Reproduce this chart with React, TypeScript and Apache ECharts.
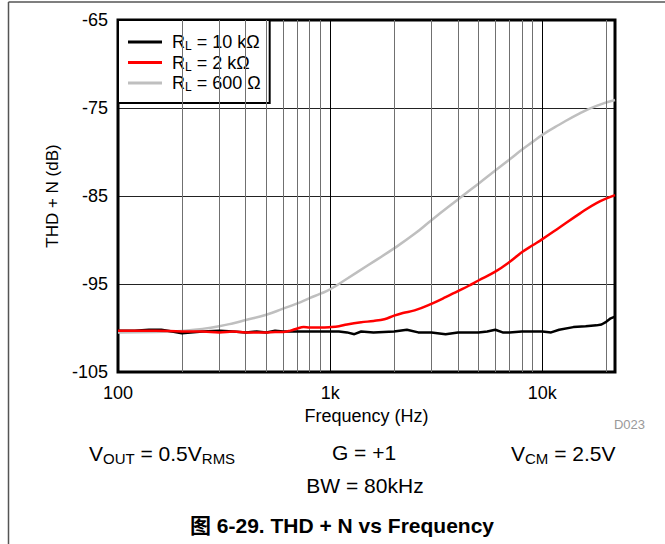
import React, { useEffect, useRef } from "react";
import * as echarts from "echarts";

const FONT = "'Liberation Sans', Arial, 'Noto Sans CJK SC', sans-serif";

const freq10k = [100, 120, 140, 160, 180, 200, 220, 250, 300, 350, 400, 450, 500, 550, 600, 700, 800, 900, 1000, 1100, 1200, 1300, 1400, 1600, 2000, 2300, 2600, 3000, 3500, 4000, 5000, 5500, 6000, 6500, 7000, 8000, 9000, 10000, 11000, 12000, 14000, 16000, 18000, 19000, 20000, 21000, 22000];
const thd10k = [-100.3, -100.3, -100.2, -100.2, -100.4, -100.6, -100.5, -100.4, -100.3, -100.4, -100.5, -100.4, -100.5, -100.3, -100.4, -100.4, -100.4, -100.4, -100.4, -100.4, -100.5, -100.7, -100.4, -100.5, -100.4, -100.2, -100.5, -100.5, -100.7, -100.5, -100.5, -100.4, -100.2, -100.5, -100.5, -100.4, -100.4, -100.4, -100.5, -100.2, -99.9, -99.8, -99.7, -99.6, -99.3, -98.9, -98.7];

const freq2k = [100, 150, 200, 250, 300, 350, 400, 450, 500, 550, 600, 650, 700, 750, 800, 900, 1000, 1100, 1200, 1400, 1600, 1800, 2000, 2200, 2500, 3000, 3500, 4000, 4500, 5000, 6000, 7000, 8000, 9000, 10000, 12000, 15000, 18000, 22000];
const thd2k = [-100.3, -100.3, -100.4, -100.4, -100.5, -100.4, -100.5, -100.5, -100.5, -100.45, -100.45, -100.3, -100.05, -99.9, -99.95, -99.95, -99.9, -99.8, -99.6, -99.35, -99.2, -99.0, -98.6, -98.3, -98.0, -97.25, -96.5, -95.8, -95.2, -94.6, -93.6, -92.5, -91.4, -90.6, -89.9, -88.6, -87.0, -85.8, -84.9];

const freq600 = [100, 150, 200, 250, 300, 350, 400, 500, 600, 700, 800, 900, 1000, 1200, 1500, 2000, 2500, 3000, 4000, 5000, 6000, 7000, 8000, 9000, 10000, 12000, 15000, 18000, 22000];
const thd600 = [-100.5, -100.45, -100.35, -100.1, -99.8, -99.45, -99.1, -98.5, -97.8, -97.2, -96.6, -96.1, -95.6, -94.4, -92.9, -90.95, -89.3, -87.75, -85.4, -83.6, -82.1, -80.85, -79.75, -78.85, -78.05, -76.9, -75.6, -74.75, -74.1];

const xTickValues = [100, 1000, 10000];
const xTickLabels = ["100", "1k", "10k"];
const minorGridFreqs = [200, 300, 400, 500, 600, 700, 800, 900, 2000, 3000, 4000, 5000, 6000, 7000, 8000, 9000, 20000];

const seriesNames = ["{r|R}{s|L}{m| = 10 kΩ}", "{r|R}{s|L}{m| = 2 kΩ}", "{r|R}{s|L}{m| = 600 Ω}"];
const seriesColors = ["#000000", "#ff0000", "#bfbfbf"];

function pairs(xs: number[], ys: number[]) {
  return xs.map((x, i) => [x, ys[i]]);
}

export default function App() {
  const ref = useRef<HTMLDivElement>(null);
  useEffect(() => {
    if (!ref.current) return;
    const chart = echarts.init(ref.current, undefined, { renderer: "svg" });
    const names = ["RL10k", "RL2k", "RL600"];
    const subRich = {
      m: { fontSize: 21, lineHeight: 26, fontFamily: FONT, fill: "#000" },
      s: { fontSize: 15, lineHeight: 15, verticalAlign: "bottom", fontFamily: FONT, fill: "#000" },
    };
    const option: any = {
      animation: false,
      backgroundColor: "#ffffff",
      textStyle: { fontFamily: FONT, color: "#000" },
      grid: {
        left: 118,
        top: 20,
        width: 497,
        height: 352,
        show: true,
        borderColor: "#000",
        borderWidth: 3,
        backgroundColor: "transparent",
        z: 3,
      },
      legend: {
        orient: "vertical",
        left: 118,
        top: 20,
        padding: [12, 9, 10, 10],
        itemGap: 0.5,
        itemWidth: 34,
        itemHeight: 3,
        icon: "rect",
        backgroundColor: "#fff",
        borderColor: "#000",
        borderWidth: 2,
        borderRadius: 0,
        data: names,
        formatter: (n: string) => seriesNames[names.indexOf(n)],
        textStyle: {
          fontFamily: FONT,
          lineHeight: 20,
          rich: {
            r: { fontSize: 18, lineHeight: 20, padding: [0, 0, 0, 5], fontFamily: FONT, color: "#000" },
            m: { fontSize: 18, lineHeight: 20, fontFamily: FONT, color: "#000" },
            s: { fontSize: 12, lineHeight: 12, verticalAlign: "bottom", fontFamily: FONT, color: "#000" },
          },
        },
      },
      xAxis: {
        type: "log",
        logBase: 10,
        min: 100,
        max: 22000,
        axisLine: { show: false },
        axisTick: { show: false },
        splitLine: { show: true, lineStyle: { color: "#000", width: 1 } },
        axisLabel: {
          fontSize: 18,
          color: "#000",
          margin: 12,
          fontFamily: FONT,
          formatter: (v: number) => {
            for (let i = 0; i < xTickValues.length; i++) {
              if (Math.abs(Math.log10(v) - Math.log10(xTickValues[i])) < 1e-6) return xTickLabels[i];
            }
            return "";
          },
        },
        name: "Frequency (Hz)",
        nameLocation: "middle",
        nameGap: 31,
        nameTextStyle: { fontSize: 18, color: "#000", fontFamily: FONT },
      },
      yAxis: {
        type: "value",
        min: -105,
        max: -65,
        interval: 10,
        axisLine: { show: false },
        axisTick: { show: false },
        splitLine: { show: true, lineStyle: { color: "#222", width: 1 } },
        axisLabel: { fontSize: 18, color: "#000", margin: 10, fontFamily: FONT },
        name: "THD + N (dB)",
        nameLocation: "middle",
        nameRotate: 90,
        nameGap: 57,
        nameTextStyle: { fontSize: 17, color: "#000", fontFamily: FONT },
      },
      series: [
        {
          name: "grid",
          type: "line",
          data: [],
          z: 1,
          silent: true,
          markLine: {
            silent: true,
            symbol: ["none", "none"],
            label: { show: false },
            lineStyle: { type: "solid", color: "#707070", width: 1 },
            data: minorGridFreqs.map((f) => ({ xAxis: f })),
          },
        },
        {
          name: names[0],
          type: "line",
          data: pairs(freq10k, thd10k),
          showSymbol: false,
          smooth: false,
          color: seriesColors[0],
          lineStyle: { color: seriesColors[0], width: 2.5 },
          z: 5,
        },
        {
          name: names[1],
          type: "line",
          data: pairs(freq2k, thd2k),
          showSymbol: false,
          smooth: 0.4,
          color: seriesColors[1],
          lineStyle: { color: seriesColors[1], width: 2.5 },
          z: 5,
        },
        {
          name: names[2],
          type: "line",
          data: pairs(freq600, thd600),
          showSymbol: false,
          smooth: 0.5,
          color: seriesColors[2],
          lineStyle: { color: seriesColors[2], width: 2.5 },
          z: 4,
        },
      ],
      graphic: [
        { type: "line", shape: { x1: 8.5, y1: 2, x2: 665, y2: 2 }, style: { stroke: "#555", lineWidth: 1.5 } },
        { type: "line", shape: { x1: 8.5, y1: 2, x2: 8.5, y2: 544 }, style: { stroke: "#555", lineWidth: 1.5 } },
        {
          type: "text",
          x: 645,
          y: 424,
          style: { text: "D023", fontSize: 13, fill: "#999", fontFamily: FONT, align: "right", verticalAlign: "middle" },
        },
        {
          type: "text",
          x: 89,
          y: 453,
          style: { text: "{m|V}{s|OUT}{m| = 0.5V}{s|RMS}", align: "left", verticalAlign: "middle", rich: subRich },
        },
        {
          type: "text",
          x: 364,
          y: 452,
          style: { text: "G = +1", fontSize: 21, fontFamily: FONT, fill: "#000", align: "center", verticalAlign: "middle" },
        },
        {
          type: "text",
          x: 511,
          y: 453,
          style: { text: "{m|V}{s|CM}{m| = 2.5V}", align: "left", verticalAlign: "middle", rich: subRich },
        },
        {
          type: "text",
          x: 365,
          y: 485,
          style: { text: "BW = 80kHz", fontSize: 21, fontFamily: FONT, fill: "#000", align: "center", verticalAlign: "middle" },
        },
        {
          type: "text",
          x: 342,
          y: 525,
          style: {
            text: "图 6-29. THD + N vs Frequency",
            fontSize: 21,
            fontWeight: "bold",
            fontFamily: FONT,
            fill: "#000",
            align: "center",
            verticalAlign: "middle",
          },
        },
      ],
    };
    chart.setOption(option);
    return () => chart.dispose();
  }, []);
  return (
    <div
      ref={ref}
      style={{ position: "absolute", left: 0, top: 0, width: 665, height: 544 }}
    />
  );
}
